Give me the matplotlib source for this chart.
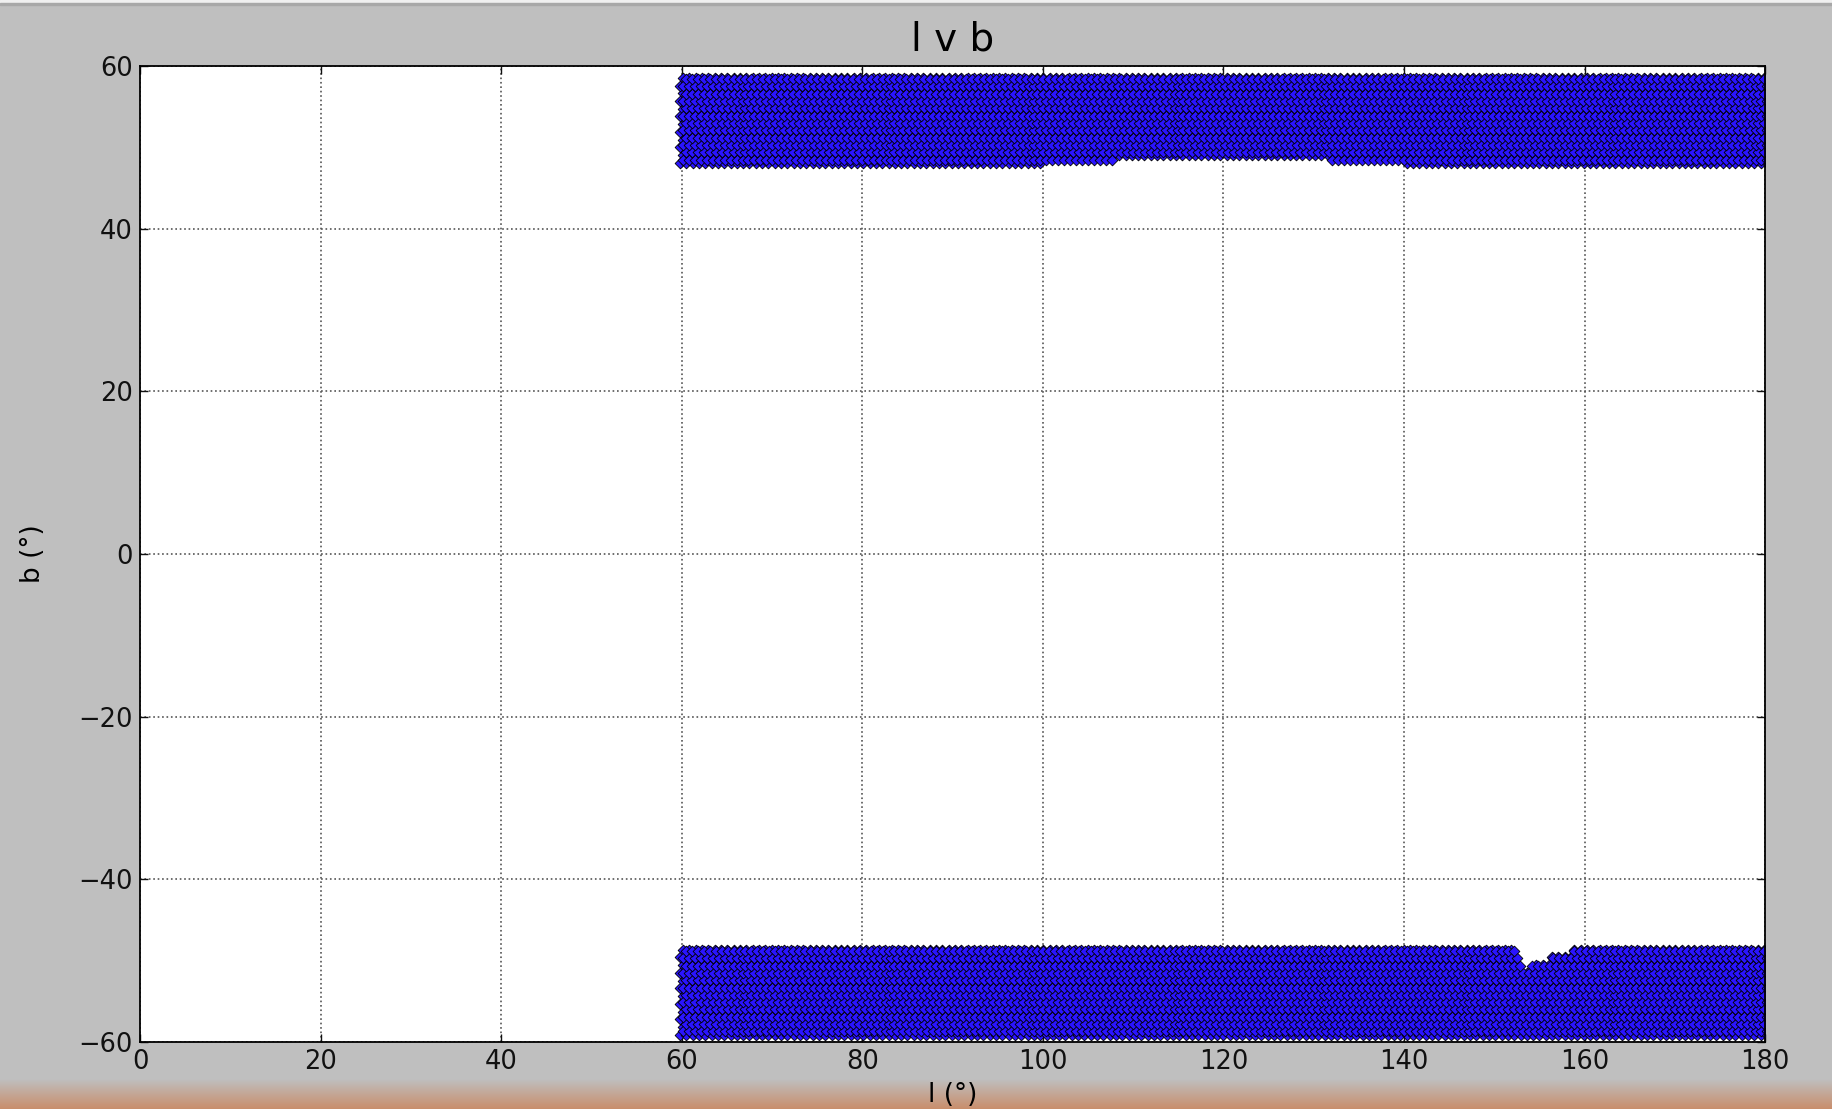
import numpy as np
import matplotlib.pyplot as plt
from matplotlib.colors import LinearSegmentedColormap

# Survey footprint: two bands in b, from l = 60 to 180
l_start, l_stop = 59.8, 180.0
# two interleaved pointing lattices (l step, b step, l offset, b offset)
lattices = [(0.70, 0.95, 0.00, 0.00), (0.66, 0.90, 0.33, 0.40)]

# upper band (northern strip): centre limits as a function of l
north_edge_l = [59.8, 100, 106, 112, 122, 132, 140, 180]
north_lo_b = [48.1, 48.1, 48.4, 48.7, 48.8, 48.5, 48.1, 48.1]
north_hi_b = [58.9, 58.9, 58.9, 58.9, 58.9, 58.9, 58.9, 58.9]

# lower band (southern strip), with the notch near l ~ 152-160
south_edge_l = [59.8, 151.8, 153.4, 159.8, 180]
south_lo_b = [-59.1, -59.1, -59.1, -59.1, -59.1]
south_hi_b = [-48.1, -48.1, -50.9, -48.1, -48.1]


def band_points(edge_l, lo_b, hi_b, dl, db, ol, ob):
    # staggered lattice of sky positions filling the band
    ls, bs = [], []
    b_min, b_max = min(lo_b), max(hi_b)
    for k, b in enumerate(np.arange(b_min + ob, b_max + 1e-9, db)):
        off = ol + (0.5 * dl if k % 2 else 0.0)
        row = np.arange(l_start + off, l_stop + 0.4, dl)
        lo = np.interp(row, edge_l, lo_b)
        hi = np.interp(row, edge_l, hi_b)
        keep = (b >= lo - 1e-9) & (b <= hi + 1e-9)
        ls.append(row[keep])
        bs.append(np.full(keep.sum(), b))
    return np.concatenate(ls), np.concatenate(bs)


l_all, b_all = [], []
for dl, db, ol, ob in lattices:
    for edges in [(north_edge_l, north_lo_b, north_hi_b),
                  (south_edge_l, south_lo_b, south_hi_b)]:
        l_pts, b_pts = band_points(*edges, dl, db, ol, ob)
        l_all.append(l_pts)
        b_all.append(b_pts)
l_all = np.concatenate(l_all)
b_all = np.concatenate(b_all)

plt.rcParams['font.size'] = 18.5
fig = plt.figure(figsize=(18.33, 11.09), dpi=100, facecolor='#bfbfbf')
ax = fig.add_axes([0.0764, 0.0604, 0.8866, 0.8801])
ax.set_facecolor('white')

ax.scatter(l_all, b_all, s=30, marker='D', c='#2a14ff', edgecolors='k',
           linewidths=0.6, zorder=2)

ax.set_xlim(0, 180)
ax.set_ylim(-60, 60)
ax.set_xticks(np.arange(0, 181, 20))
ax.set_yticks(np.arange(-60, 61, 20))
ax.tick_params(direction='in', top=True, right=True, length=6, width=1,
               pad=5, colors='#111111')
ax.grid(True, color='#555555', linestyle=':', linewidth=1.2, zorder=1)
for sp in ax.spines.values():
    sp.set_linewidth(1.3)

ax.set_title('l v b', fontsize=28, y=1.027, va='center', pad=0)
ax.set_xlabel('l (°)', fontsize=19)
ax.set_ylabel('b (°)', fontsize=19)
ax.xaxis.set_label_coords(0.5, -0.054)
ax.yaxis.set_label_coords(-0.066, 0.5)
ax.xaxis.label.set_va('center')
ax.yaxis.label.set_va('center')

# window frame: light strip on top, warm gradient at the bottom
fig.patches.append(plt.Rectangle((0, 1 - 3 / 1109), 1, 3 / 1109,
                                 transform=fig.transFigure, color='#f0f0f0',
                                 zorder=-2))
fig.patches.append(plt.Rectangle((0, 1 - 5 / 1109), 1, 2 / 1109,
                                 transform=fig.transFigure, color='#a8a8a8',
                                 zorder=-2))
grad_ax = fig.add_axes([0, 0, 1, 30 / 1109], zorder=-1)
cmap = LinearSegmentedColormap.from_list('frame', ['#c98e6c', '#bfbfbf'])
grad_ax.imshow(np.linspace(0, 1, 64).reshape(-1, 1), aspect='auto',
               cmap=cmap, origin='lower', extent=[0, 1, 0, 1])
grad_ax.set_axis_off()

fig.savefig('out.png', dpi=100, facecolor=fig.get_facecolor())
